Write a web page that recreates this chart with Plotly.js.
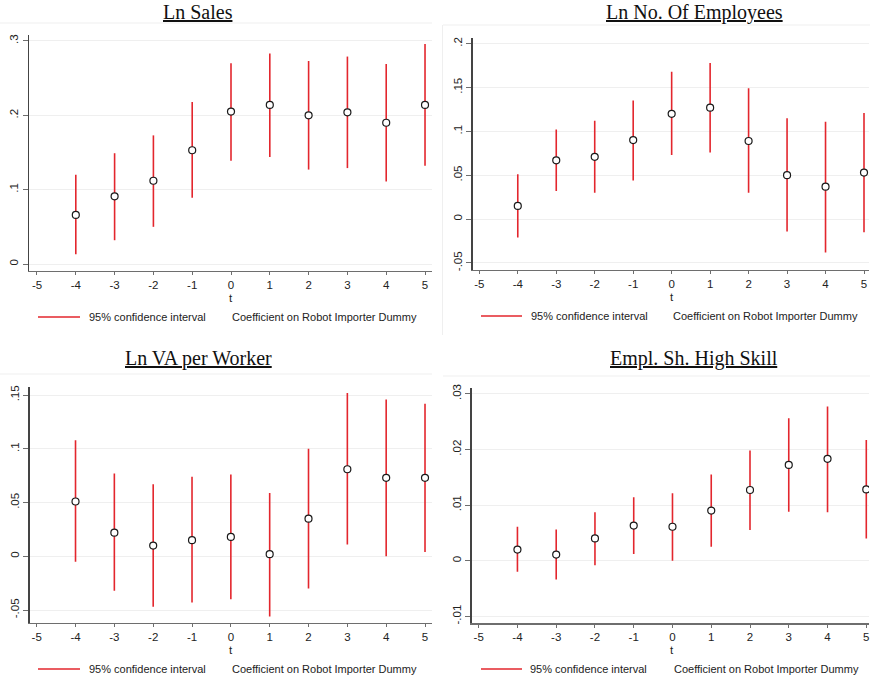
<!DOCTYPE html>
<html>
<head>
<meta charset="utf-8">
<script src="https://cdn.plot.ly/plotly-3.0.1.min.js"></script>
<style>
html,body{margin:0;padding:0;background:#fff;}
#chart{width:870px;height:683px;}
</style>
</head>
<body>
<div id="chart"></div>
<script>
// ---- data ----
const periods = [-4, -3, -2, -1, 0, 1, 2, 3, 4, 5];
const xTicks = [-5, -4, -3, -2, -1, 0, 1, 2, 3, 4, 5];

const titles = ["Ln Sales", "Ln No. Of Employees", "Ln VA per Worker", "Empl. Sh. High Skill"];

const salesCoef = [0.066, 0.091, 0.112, 0.153, 0.205, 0.214, 0.200, 0.204, 0.190, 0.214];
const salesHi   = [0.120, 0.149, 0.173, 0.218, 0.270, 0.283, 0.273, 0.279, 0.269, 0.296];
const salesLo   = [0.013, 0.032, 0.050, 0.089, 0.139, 0.144, 0.127, 0.129, 0.111, 0.132];

const emplCoef = [0.015, 0.067, 0.071, 0.090, 0.120, 0.127, 0.089, 0.050, 0.037, 0.053];
const emplHi   = [0.051, 0.102, 0.112, 0.135, 0.168, 0.178, 0.149, 0.115, 0.111, 0.121];
const emplLo   = [-0.021, 0.032, 0.030, 0.044, 0.073, 0.076, 0.030, -0.014, -0.038, -0.015];

const vaCoef = [0.051, 0.022, 0.010, 0.015, 0.018, 0.002, 0.035, 0.081, 0.073, 0.073];
const vaHi   = [0.108, 0.077, 0.067, 0.074, 0.076, 0.059, 0.100, 0.152, 0.146, 0.142];
const vaLo   = [-0.005, -0.032, -0.047, -0.043, -0.040, -0.056, -0.030, 0.011, 0.000, 0.004];

const hsCoef = [0.0020, 0.0011, 0.0040, 0.0063, 0.0061, 0.0090, 0.0127, 0.0172, 0.0183, 0.0128];
const hsHi   = [0.0061, 0.0056, 0.0087, 0.0114, 0.0121, 0.0155, 0.0198, 0.0256, 0.0277, 0.0217];
const hsLo   = [-0.0020, -0.0034, -0.0008, 0.0012, 0.0000, 0.0025, 0.0055, 0.0088, 0.0087, 0.0040];

const salesYTicks = [0, 0.1, 0.2, 0.3];
const salesYText  = ["0", ".1", ".2", ".3"];
const emplYTicks = [-0.05, 0, 0.05, 0.1, 0.15, 0.2];
const emplYText  = ["-.05", "0", ".05", ".1", ".15", ".2"];
const vaYTicks = [-0.05, 0, 0.05, 0.1, 0.15];
const vaYText  = ["-.05", "0", ".05", ".1", ".15"];
const hsYTicks = [-0.01, 0, 0.01, 0.02, 0.03];
const hsYText  = ["-.01", "0", ".01", ".02", ".03"];

const legendCI = "95% confidence interval";
const legendCoef = "Coefficient on Robot Importer Dummy";

// ---- layout geometry (pixels) ----
const W = 870, H = 683;
const px = x => x / W;
const py = y => 1 - y / H;

const panels = [
  {coef: salesCoef, hi: salesHi, lo: salesLo, yt: salesYTicks, ytx: salesYText,
   dom: [29, 432, 35, 271], xr: [-5.206, 5.18], yr: [-0.0094, 0.308],
   title: [198, 12], t: [231, 298], leg: [38, 80, 317, 87, 230]},
  {coef: emplCoef, hi: emplHi, lo: emplLo, yt: emplYTicks, ytx: emplYText,
   dom: [472.7, 869, 37.7, 270], xr: [-5.172, 5.13], yr: [-0.058, 0.2067],
   title: [694, 12], t: [672, 297], leg: [481, 522, 316, 529, 671]},
  {coef: vaCoef, hi: vaHi, lo: vaLo, yt: vaYTicks, ytx: vaYText,
   dom: [29.7, 432, 386.7, 622.7], xr: [-5.18, 5.18], yr: [-0.0618, 0.1578],
   title: [198, 358], t: [231, 650], leg: [38, 80, 669, 87, 230]},
  {coef: hsCoef, hi: hsHi, lo: hsLo, yt: hsYTicks, ytx: hsYText,
   dom: [471.7, 869, 388.3, 623.3], xr: [-5.18, 5.07], yr: [-0.01125, 0.03097],
   title: [694, 358], t: [672, 650], leg: [481, 522, 669, 528, 672]}
];

const red = "#e3262d";
const axisCol = "#6e6e6e";
const tickFont = {family: "Liberation Sans, Arial, sans-serif", size: 11.5, color: "#222"};

const traces = [];
const layout = {
  width: W, height: H,
  margin: {l: 0, r: 0, t: 0, b: 0},
  paper_bgcolor: "#fff", plot_bgcolor: "#fff",
  showlegend: false,
  annotations: [], shapes: []
};

// faint panel frames
layout.shapes.push({type: "line", xref: "paper", yref: "paper", x0: 0, x1: px(432), y0: py(23), y1: py(23), line: {color: "#efefef", width: 1}});
layout.shapes.push({type: "line", xref: "paper", yref: "paper", x0: px(443), x1: 1, y0: py(25), y1: py(25), line: {color: "#efefef", width: 1}});
layout.shapes.push({type: "line", xref: "paper", yref: "paper", x0: px(442.5), x1: px(442.5), y0: py(25), y1: py(335), line: {color: "#efefef", width: 1}});
layout.shapes.push({type: "line", xref: "paper", yref: "paper", x0: 0, x1: px(432), y0: py(374), y1: py(374), line: {color: "#efefef", width: 1}});
layout.shapes.push({type: "line", xref: "paper", yref: "paper", x0: px(443), x1: 1, y0: py(376), y1: py(376), line: {color: "#efefef", width: 1}});

panels.forEach((p, i) => {
  const n = i + 1;
  const xa = n === 1 ? "x" : "x" + n;
  const ya = n === 1 ? "y" : "y" + n;
  const xKey = n === 1 ? "xaxis" : "xaxis" + n;
  const yKey = n === 1 ? "yaxis" : "yaxis" + n;

  traces.push({
    type: "scatter", mode: "markers", x: periods, y: p.coef,
    xaxis: xa, yaxis: ya,
    error_y: {type: "data", symmetric: false,
      array: p.hi.map((h, k) => h - p.coef[k]),
      arrayminus: p.coef.map((c, k) => c - p.lo[k]),
      color: red, thickness: 1.6, width: 0},
    marker: {symbol: "circle", size: 7, color: "#fff", line: {color: "#1a1a1a", width: 1.2}},
    hoverinfo: "skip"
  });

  layout[xKey] = {
    domain: [px(p.dom[0]), px(p.dom[1])],
    anchor: ya, range: p.xr,
    tickmode: "array", tickvals: xTicks, ticktext: xTicks.map(String),
    ticks: "outside", ticklen: 3, tickwidth: 1, tickcolor: axisCol,
    showline: true, linecolor: axisCol, linewidth: 1.3,
    showgrid: false, zeroline: false,
    tickfont: tickFont, fixedrange: true
  };
  layout[yKey] = {
    domain: [py(p.dom[3]), py(p.dom[2])],
    anchor: xa, range: p.yr,
    tickmode: "array", tickvals: p.yt, ticktext: p.ytx, tickangle: -90,
    ticks: "outside", ticklen: 5, tickwidth: 1, tickcolor: axisCol,
    showline: true, linecolor: "#444", linewidth: 1.3,
    showgrid: true, gridcolor: "#efefef", gridwidth: 1,
    zeroline: false, tickfont: tickFont, fixedrange: true
  };

  // title (underlined serif)
  layout.annotations.push({
    xref: "paper", yref: "paper", x: px(p.title[0]), y: py(p.title[1]),
    xanchor: "center", yanchor: "middle", showarrow: false,
    text: "<u>" + titles[i] + "</u>",
    font: {family: "Liberation Serif, Times New Roman, serif", size: 20, color: "#111"}
  });
  // x-axis title "t"
  layout.annotations.push({
    xref: "paper", yref: "paper", x: px(p.t[0]), y: py(p.t[1]),
    xanchor: "center", yanchor: "middle", showarrow: false,
    text: "t", font: tickFont
  });
  // legend
  const lg = p.leg;
  layout.shapes.push({type: "line", xref: "paper", yref: "paper",
    x0: px(lg[0]), x1: px(lg[1]), y0: py(lg[2]), y1: py(lg[2]),
    line: {color: red, width: 1.6}});
  layout.annotations.push({
    xref: "paper", yref: "paper", x: px(lg[3]), y: py(lg[2]),
    xanchor: "left", yanchor: "middle", showarrow: false,
    text: legendCI, font: {family: "Liberation Sans, Arial, sans-serif", size: 11, color: "#222"}
  });
  layout.annotations.push({
    xref: "paper", yref: "paper", x: px(lg[4]), y: py(lg[2]),
    xanchor: "left", yanchor: "middle", showarrow: false,
    text: legendCoef, font: {family: "Liberation Sans, Arial, sans-serif", size: 11, color: "#222"}
  });
});

Plotly.newPlot("chart", traces, layout, {displayModeBar: false, staticPlot: true});
</script>
</body>
</html>
